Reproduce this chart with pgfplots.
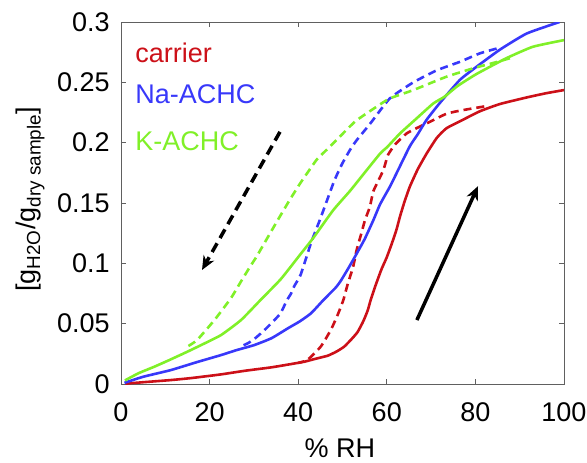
\documentclass[border=0pt]{standalone}
\usepackage{fontspec}
\setmainfont{Liberation Sans}
\usepackage{pgfplots}
\pgfplotsset{compat=1.18}
\usetikzlibrary{arrows.meta}

\definecolor{cred}{RGB}{204,16,24}
\definecolor{cblue}{RGB}{56,56,250}
\definecolor{cgreen}{RGB}{128,240,40}
\definecolor{frame}{RGB}{96,96,96}

\begin{document}
\begin{tikzpicture}
\begin{axis}[
  scale only axis,
  width=443pt, height=362pt,
  xmin=0, xmax=100, ymin=0, ymax=0.3,
  xtick={0,20,...,100},
  ytick={0,0.05,...,0.3},
  yticklabels={0,0.05,0.1,0.15,0.2,0.25,0.3},
  tick align=inside,
  major tick length=5pt,
  axis line style={frame, line width=0.8pt},
  tick style={frame, line width=0.8pt},
  font=\fontsize{27}{32}\selectfont,
  /pgf/number format/assume math mode=true,
  xticklabel style={inner sep=0pt, yshift=-18pt},
  yticklabel style={inner sep=0pt, xshift=-11pt},
  xlabel={\% RH},
  xlabel style={at={(rel axis cs:0.494,-0.204)}, anchor=base, inner sep=0pt},
  ylabel={[g\textsubscript{H2O}/g\textsubscript{dry sample}]},
  ylabel style={at={(rel axis cs:-0.205,0.51)}, anchor=center, inner sep=0pt},
  every axis plot/.append style={line width=2.6pt, smooth, tension=0.3},
  clip mode=individual,
]
% carrier
\addplot[cred] coordinates {
(1,0.0003) (5,0.0015) (11.3,0.0033) (16,0.005) (22.6,0.008) (28,0.011)
(33.9,0.0138) (38,0.0163) (41.4,0.0185) (44,0.021) (46.7,0.0235) (48.7,0.027)
(50.4,0.031) (52,0.037) (53.4,0.043) (54.7,0.052) (55.7,0.061) (56.4,0.070)
(57.5,0.082) (58.8,0.095) (60,0.105) (61.2,0.117) (62.2,0.128) (63,0.139)
(64,0.151) (65.2,0.1635) (67,0.178) (69,0.191) (71.3,0.204) (73.5,0.212)
(77.2,0.219) (81,0.226) (85.5,0.232) (91.6,0.2375) (96,0.241) (100,0.2436)};
\addplot[cred, dash pattern=on 8pt off 5pt] coordinates {
(82,0.230) (77.2,0.227) (73.5,0.224) (69,0.216) (66.7,0.212) (64.5,0.2077)
(62,0.199) (60.3,0.190) (59.2,0.177) (57,0.160) (56.2,0.147) (55.1,0.136)
(54.2,0.124) (53.2,0.111) (52.4,0.097) (51.2,0.083) (50.2,0.0696) (49,0.058)
(47.4,0.045) (45.1,0.031) (42.1,0.020) (40,0.0175)};
% Na-ACHC
\addplot[cblue] coordinates {
(0.8,0.001) (5,0.006) (11.3,0.0116) (17,0.018) (22.6,0.024) (26,0.028)
(30.1,0.0323) (34,0.038) (37.6,0.046) (40.4,0.052) (42.9,0.0586) (45.7,0.0696)
(48.5,0.080) (49.7,0.086) (51.5,0.097) (53.2,0.108) (55,0.120) (57,0.136)
(58.5,0.149) (60.7,0.1635) (62.2,0.1746) (65.2,0.197) (67,0.207) (69,0.219)
(72,0.233) (76.5,0.252) (80.3,0.263) (85.5,0.277) (91.6,0.2905) (99,0.300)};
\addplot[cblue, dash pattern=on 8pt off 5pt] coordinates {
(84.8,0.278) (81,0.274) (76.5,0.267) (71.3,0.260) (66,0.250) (60.7,0.2367)
(56.2,0.2155) (53.2,0.202) (51.7,0.194) (50,0.183) (48.7,0.173) (47.9,0.166)
(46.5,0.152) (44.9,0.136) (43,0.118) (41.9,0.1055) (40.5,0.090) (39.1,0.081)
(38.4,0.075) (37.4,0.069) (35.9,0.058) (32.4,0.0447) (30,0.037) (28.6,0.0337)
(27,0.031)};
% K-ACHC
\addplot[cgreen] coordinates {
(0.9,0.003) (4,0.009) (7.5,0.0143) (11,0.020) (15,0.0268) (18.5,0.033)
(22.6,0.0406) (27.1,0.053) (31.5,0.0696) (36.1,0.087) (40.4,0.107) (43.4,0.121)
(47.9,0.144) (51.7,0.160) (54,0.1705) (58.5,0.191) (60,0.196) (63,0.2077)
(66.4,0.219) (70.5,0.2325) (73,0.238) (76,0.247) (80.3,0.257) (87,0.270)
(93,0.2795) (100,0.285)};
\addplot[cgreen, dash pattern=on 8pt off 5pt] coordinates {
(87.8,0.270) (83,0.265) (80.3,0.2625) (73.5,0.2547) (66,0.2436) (60.7,0.2367)
(57.7,0.2298) (53,0.218) (49.4,0.205) (46.4,0.194) (44.2,0.186) (41.9,0.174)
(40.4,0.166) (38,0.152) (35.1,0.134) (32.1,0.115) (30.6,0.1055) (29.1,0.097)
(27.1,0.085) (24.8,0.071) (21.1,0.053) (17.2,0.0365) (15,0.031)};
% arrows
\addplot[black, line width=3.5pt, sharp plot, dash pattern=on 10pt off 6pt, -{Stealth[length=14pt,width=12pt]}] coordinates {(35.9,0.209) (18.3,0.0945)};
\addplot[black, line width=3.5pt, sharp plot, -{Stealth[length=14pt,width=12pt]}] coordinates {(66.8,0.053) (80.6,0.164)};
% labels
\node[cred, anchor=base west, inner sep=0pt] at (axis cs:3.2,0.2668) {carrier};
\node[cblue, anchor=base west, inner sep=0pt] at (axis cs:3.2,0.2326) {Na-ACHC};
\node[cgreen, anchor=base west, inner sep=0pt] at (axis cs:3.2,0.1939) {K-ACHC};
\coordinate (bl) at (rel axis cs:-0.273,-0.2155);
\coordinate (tr) at (rel axis cs:1.052,1.0608);
\end{axis}
\path (bl) rectangle (tr);
\end{tikzpicture}
\end{document}
